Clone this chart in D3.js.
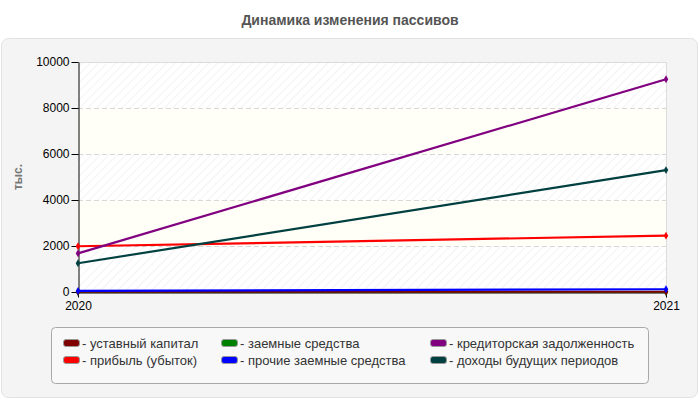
<!DOCTYPE html>
<html>
<head>
<meta charset="utf-8">
<script src="https://cdn.jsdelivr.net/npm/d3@7"></script>
<style>
  body { margin: 0; background: #fff; font-family: "Liberation Sans", Arial, sans-serif; }
  svg text { font-family: "Liberation Sans", Arial, sans-serif; }
</style>
</head>
<body>
<svg id="chart" width="700" height="400"></svg>
<script>
const years = ['2020', '2021'];
const seriesNames = [
  'уставный капитал',
  'прибыль (убыток)',
  'заемные средства',
  'прочие заемные средства',
  'кредиторская задолженность',
  'доходы будущих периодов'
];
const seriesColors = ['#800000', '#ff0000', '#008000', '#0000ff', '#800080', '#004040'];
const ustavny = [10, 10];
const pribyl = [1990, 2450];
const zaemnye = [0, 0];
const prochie = [45, 120];
const kreditor = [1680, 9250];
const dohody = [1250, 5300];
const yTicks = [0, 2000, 4000, 6000, 8000, 10000];

const seriesValues = [ustavny, pribyl, zaemnye, prochie, kreditor, dohody];
// draw order so that the hidden ones end up under the visible ones
const drawOrder = [2, 0, 3, 1, 5, 4];

const svg = d3.select('#chart');
const margin = {left: 78, right: 34, top: 62, bottom: 108};
const W = 700, H = 400;

// outer panel
svg.append('rect')
  .attr('x', 1.5).attr('y', 38.5).attr('width', 696).attr('height', 359)
  .attr('rx', 7)
  .attr('fill', '#f4f4f4').attr('stroke', '#e2e2e2');

svg.append('text')
  .attr('x', W / 2).attr('y', 25)
  .attr('text-anchor', 'middle')
  .attr('font-size', 14).attr('font-weight', 'bold')
  .attr('fill', '#555')
  .text('Динамика изменения пассивов');

const x = d3.scalePoint().domain(years).range([margin.left, W - margin.right]);
const y = d3.scaleLinear().domain([0, 10000]).range([H - margin.bottom, margin.top]);

// hatch pattern
const defs = svg.append('defs');
const pat = defs.append('pattern')
  .attr('id', 'hatch').attr('patternUnits', 'userSpaceOnUse')
  .attr('width', 6).attr('height', 6)
  .attr('patternTransform', 'rotate(45)');
pat.append('rect').attr('width', 6).attr('height', 6).attr('fill', '#ffffff');
pat.append('line').attr('x1', 0).attr('y1', 0).attr('x2', 0).attr('y2', 6)
  .attr('stroke', '#ececec').attr('stroke-width', 1.2);

const plotW = W - margin.right - margin.left;
// alternating bands
yTicks.slice(0, -1).forEach((t, i) => {
  svg.append('rect')
    .attr('x', margin.left).attr('y', y(yTicks[i + 1]))
    .attr('width', plotW).attr('height', y(t) - y(yTicks[i + 1]))
    .attr('fill', i % 2 === 0 ? 'url(#hatch)' : '#fffff8');
});

// plot border top/right
svg.append('path')
  .attr('d', `M${margin.left},${margin.top + 0.5}H${W - margin.right + 0.5}V${H - margin.bottom}`)
  .attr('fill', 'none').attr('stroke', '#dcdcdc');

// gridlines
svg.append('g').selectAll('line')
  .data(yTicks.slice(1, -1))
  .join('line')
  .attr('x1', margin.left).attr('x2', W - margin.right)
  .attr('y1', d => Math.round(y(d)) + 0.5).attr('y2', d => Math.round(y(d)) + 0.5)
  .attr('stroke', '#d8d8d8').attr('stroke-dasharray', '5,3');

// axes
const yAxis = svg.append('g')
  .attr('transform', `translate(${margin.left + 0.5},0)`)
  .call(d3.axisLeft(y).tickValues(yTicks).tickFormat(d3.format('d')).tickSize(7).tickSizeOuter(0));
const xAxis = svg.append('g')
  .attr('transform', `translate(0,${H - margin.bottom + 0.5})`)
  .call(d3.axisBottom(x).tickSize(5).tickSizeOuter(0));
[yAxis, xAxis].forEach(a => {
  a.select('.domain').attr('stroke', '#000');
  a.selectAll('.tick line').attr('stroke', '#000');
  a.selectAll('.tick text').attr('font-size', 12).attr('fill', '#000')
    .attr('font-family', '"Liberation Sans", Arial, sans-serif');
});
yAxis.selectAll('.tick text').attr('x', -9);
xAxis.selectAll('.tick text').attr('y', 9);

svg.append('text')
  .attr('transform', `translate(22,${(margin.top + H - margin.bottom) / 2}) rotate(-90)`)
  .attr('text-anchor', 'middle')
  .attr('font-size', 12).attr('font-weight', 'bold').attr('fill', '#777')
  .text('тыс.');

// lines
const line = d3.line().x((d, i) => x(years[i])).y(d => y(d));
const lines = svg.append('g');
drawOrder.forEach(si => {
  const g = lines.append('g');
  g.append('path')
    .datum(seriesValues[si])
    .attr('d', line)
    .attr('fill', 'none')
    .attr('stroke', seriesColors[si])
    .attr('stroke-width', 2.2);
  g.selectAll('path.m')
    .data(seriesValues[si])
    .join('path')
    .attr('class', 'm')
    .attr('transform', (d, i) => `translate(${x(years[i])},${y(d)})`)
    .attr('d', d3.symbol(d3.symbolDiamond, 18))
    .attr('fill', seriesColors[si]);
});

// legend
svg.append('rect')
  .attr('x', 51.5).attr('y', 327.5).attr('width', 597).attr('height', 56)
  .attr('rx', 4)
  .attr('fill', '#f8f8f8').attr('stroke', '#a8a8a8');

const colX = [63, 221, 430];
const rowY = [343, 360];
const legend = svg.append('g').selectAll('g')
  .data(seriesNames)
  .join('g')
  .attr('transform', (d, i) => `translate(${colX[Math.floor(i / 2)]},${rowY[i % 2]})`);
legend.append('rect')
  .attr('x', 0.5).attr('y', -3.5).attr('width', 16).attr('height', 7)
  .attr('rx', 2.5)
  .attr('fill', (d, i) => seriesColors[i])
  .attr('stroke', '#999');
legend.append('text')
  .attr('x', 19).attr('y', 4.5)
  .attr('font-size', 13).attr('fill', '#333')
  .text(d => '- ' + d);
</script>
</body>
</html>
